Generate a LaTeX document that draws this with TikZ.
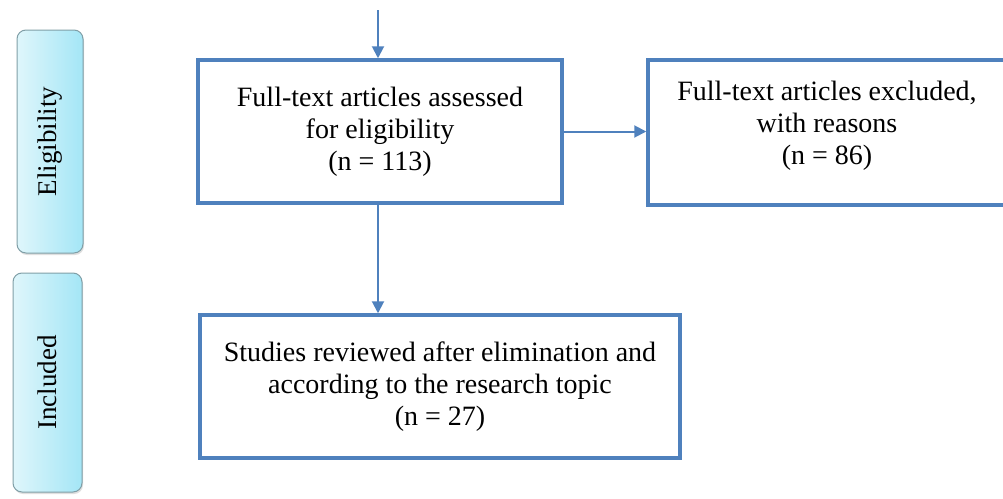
\documentclass[tikz,border=0pt]{standalone}
\usepackage{fontspec}
\setmainfont{Liberation Serif}
\usetikzlibrary{arrows.meta,shadows}
\definecolor{boxblue}{HTML}{4F81BD}
\definecolor{sideL}{HTML}{DFF6FB}
\definecolor{sideR}{HTML}{A4E6F6}
\definecolor{sideD}{HTML}{809FA7}
\begin{document}
\begin{tikzpicture}[x=1pt,y=-1pt,
  flowbox/.style={draw=boxblue, line width=3.5pt, fill=white, align=center,
    font=\fontsize{28}{32}\selectfont, inner sep=0pt},
  sidebox/.style={draw=sideD, line width=1pt, rounded corners=9pt,
    left color=sideL, right color=sideR, inner sep=0pt,
    font=\fontsize{27}{30}\selectfont,
    drop shadow={shadow xshift=1pt, shadow yshift=-2pt, opacity=0.25}},
  conn/.style={draw=boxblue, line width=2pt, -{Triangle[length=12pt,width=12pt]}}]
\useasboundingbox (0,0) rectangle (1003,498);
\clip (0,0) rectangle (1003,498);
\fill[white] (0,0) rectangle (1003,498);

% side stage boxes
\node[sidebox, minimum width=66pt, minimum height=223pt] (elig) at (50,141.5)
  {\rotatebox{90}{Eligibility}};
\node[sidebox, minimum width=69pt, minimum height=219pt] (incl) at (47.5,382.5)
  {\rotatebox{90}{Included}};

% flow boxes
\node[flowbox, minimum width=364pt, minimum height=143pt] (b1) at (380,131.5)
  {Full-text articles assessed\\for eligibility\\(n = 113)};
\node[flowbox, minimum width=358pt, minimum height=145pt] (b2) at (827,132.5)
  {Full-text articles excluded,\\with reasons\\(n = 86)\\[-13pt]};
\node[flowbox, minimum width=480pt, minimum height=143pt] (b3) at (440,386.5)
  {Studies reviewed after elimination and\\according to the research topic\\(n = 27)};

% connectors
\coordinate (top) at (378,10);
\draw[conn] (top) -- (top |- b1.north);
\draw[conn] (b1.east) -- (b1.east -| b2.west);
\draw[conn] ([xshift=-2pt]b1.south) -- ([xshift=-2pt]b1.south |- b3.north);
\end{tikzpicture}
\end{document}
